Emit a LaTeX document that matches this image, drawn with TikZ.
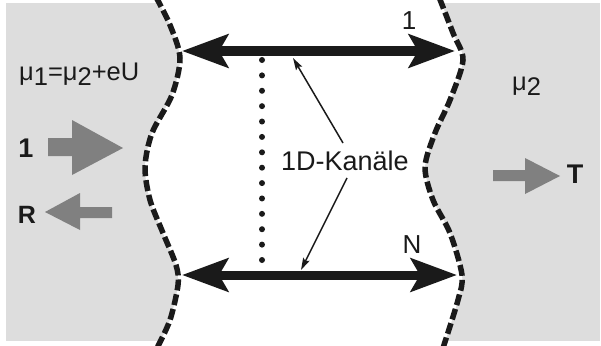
\documentclass[tikz,border=0pt]{standalone}
\usepackage{fontspec}
\setmainfont{Liberation Sans}
\usetikzlibrary{arrows.meta}
\definecolor{bggray}{HTML}{DDDDDD}
\definecolor{argray}{HTML}{808080}
\definecolor{ink}{HTML}{1A1A1A}
\tikzset{
  txt/.style={inner sep=0pt, anchor=base, font=\fontsize{26}{30}\selectfont, text=ink},
  btxt/.style={txt, font=\fontsize{27}{30}\selectfont\bfseries},
  bigarrow/.style={line width=9pt, draw=ink, {Stealth[length=46pt,width=33pt,inset=9pt]}-{Stealth[length=46pt,width=33pt,inset=9pt]}},
  thinarrow/.style={line width=1.5pt, draw=ink, -{Stealth[length=12pt,width=7pt,inset=2pt]}},
  border/.style={line width=5.5pt, draw=ink, dash pattern=on 11pt off 4pt},
  grayarrow/.style={fill=argray, draw=none}
}
\begin{document}
\begin{tikzpicture}[x=1pt,y=-1pt]
\useasboundingbox (0,0) rectangle (601,345);
% background
\fill[bggray] (6,3) rectangle (600,341);
\def\leftcurve{(156,-3) (170,25) (180,58) (172,95) (152,133) (145,167) (150,200) (163,233) (176,265) (178,285) (170,320) (157,348)}
\def\rightcurvrev{(443,348) (458,300) (462,275) (450,233) (433,200) (425,167) (435,133) (450,100) (463,60) (453,33) (439,-3)}
\fill[white] plot[smooth] coordinates {\leftcurve} -- plot[smooth] coordinates {\rightcurvrev} -- cycle;
\draw[border] plot[smooth] coordinates {\leftcurve};
\draw[border] plot[smooth] coordinates {\rightcurvrev};
% channels
\coordinate (a1l) at (182,51);
\coordinate (a1r) at (455,51);
\coordinate (aNl) at (182,275);
\coordinate (aNr) at (457,275);
\draw[bigarrow] (a1l) -- (a1r);
\draw[bigarrow] (aNl) -- (aNr);
% dotted
\foreach \i in {0,...,13} {
  \fill[ink] (262,{60+\i*200/13}) circle (3pt);
}
% labels
\node[txt] (one) at (409,30) {1};
\node[txt] (N) at (412,253) {N};
\node[txt, anchor=base west, font=\fontsize{27}{30}\selectfont] (kan) at (281,170) {1D-Kanäle};
\coordinate (k1) at (343,143);
\coordinate (k2) at (347,178);
\coordinate (t1) at (293,58);
\coordinate (t2) at (301,270);
\draw[thinarrow] (k1) -- (t1);
\draw[thinarrow] (k2) -- (t2);
% left reservoir
\node[txt, anchor=base west, font=\fontsize{25.5}{28}\selectfont] (mu1) at (19,80)
  {μ\raisebox{-5pt}{1}=μ\raisebox{-5pt}{2}+eU};
\node[btxt] (in) at (26,157) {1};
\node[btxt, font=\fontsize{25}{28}\selectfont\bfseries] (R) at (27,223) {R};
\fill[grayarrow] (48,138) -- (72,138) -- (72,120) -- (123,148) -- (72,175) -- (72,156) -- (48,156) -- cycle;
\fill[grayarrow] (112,207) -- (80,207) -- (80,193) -- (45,212) -- (80,230) -- (80,218) -- (112,218) -- cycle;
% right reservoir
\node[txt, anchor=base west, font=\fontsize{25.5}{28}\selectfont] (mu2) at (512,90)
  {μ\raisebox{-5pt}{2}};
\node[btxt] (T) at (575,183) {T};
\fill[grayarrow] (493,170) -- (525,170) -- (525,158) -- (560,176) -- (525,194) -- (525,181) -- (493,181) -- cycle;
\end{tikzpicture}
\end{document}
